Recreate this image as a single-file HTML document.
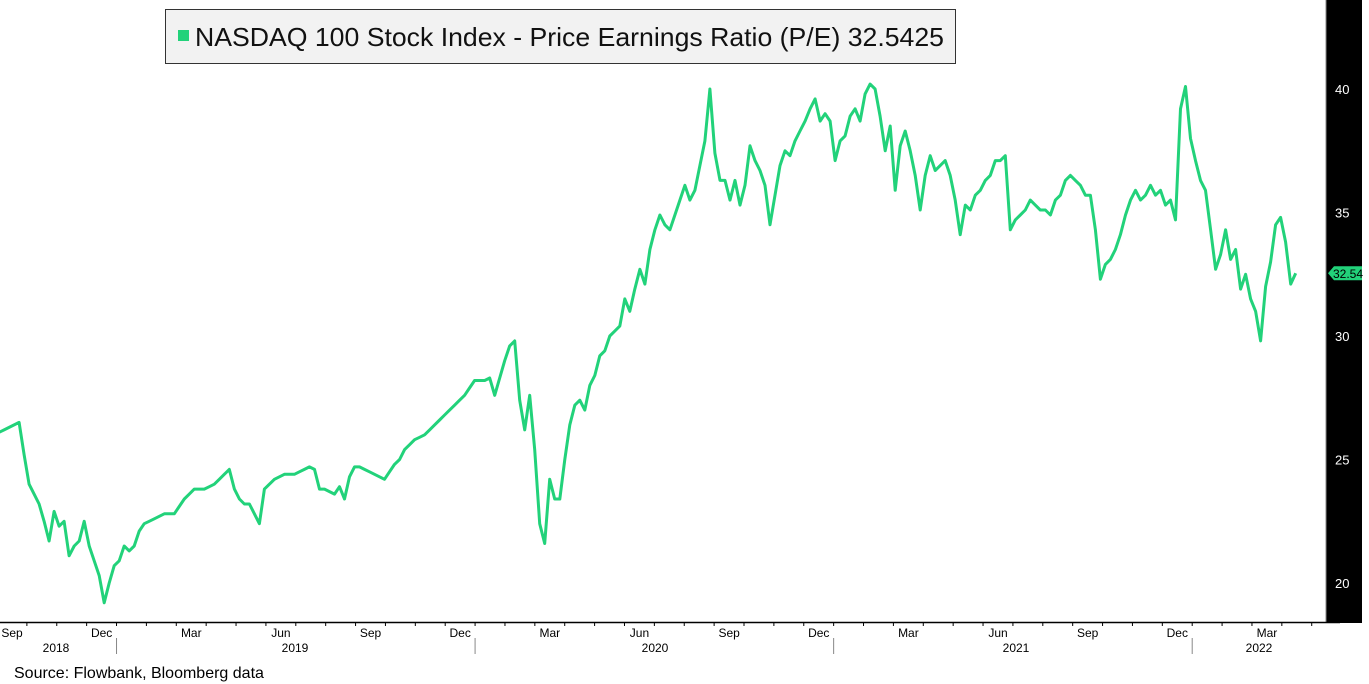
<!DOCTYPE html>
<html><head><meta charset="utf-8">
<style>
html,body{margin:0;padding:0;background:#fff;width:1369px;height:684px;overflow:hidden;font-family:"Liberation Sans",sans-serif}
</style></head>
<body>
<svg id="chart" width="1369" height="684" xmlns="http://www.w3.org/2000/svg">
<rect x="1326" y="0" width="36" height="623" fill="#000"/>
<line x1="1326" y1="0" x2="1326" y2="623" stroke="#888" stroke-width="1"/>
<line x1="0" y1="622.5" x2="1340" y2="622.5" stroke="#000" stroke-width="1.5"/>
<g id="yticks"></g><g id="xticks"></g>
<path id="line" fill="none" stroke="#22d27a" stroke-width="3" stroke-linejoin="round"/>
<g id="lastval"></g>
<g>
<rect x="165.5" y="9.5" width="790" height="54" fill="#f2f2f2" stroke="#333" stroke-width="1"/>
<rect x="178" y="30" width="11" height="11" fill="#22d27a"/>
<text x="195" y="46" font-size="26" fill="#111" textLength="749" lengthAdjust="spacingAndGlyphs">NASDAQ 100 Stock Index - Price Earnings Ratio (P/E) 32.5425</text>
</g>
<text x="14" y="678" font-size="16" fill="#000">Source: Flowbank, Bloomberg data</text>
</svg>
<script>
const yTicks=[20,25,30,35,40];
const monthLabels=["Sep","Dec","Mar","Jun","Sep","Dec","Mar","Jun","Sep","Dec","Mar","Jun","Sep","Dec","Mar"];
const yearLabels=["2018","2019","2020","2021","2022"];
const startDate="2018-08-29";
const stepDays=5.1;
const values=[26.0,26.1,26.2,26.3,26.4,26.5,25.2,24.0,23.6,23.2,22.5,21.7,22.9,22.3,22.5,21.1,21.5,21.7,22.5,21.5,20.9,20.3,19.2,20.0,20.7,20.9,21.5,21.3,21.5,22.1,22.4,22.5,22.6,22.7,22.8,22.8,22.8,23.1,23.4,23.6,23.8,23.8,23.8,23.9,24.0,24.2,24.4,24.6,23.8,23.4,23.2,23.2,22.8,22.4,23.8,24.0,24.2,24.3,24.4,24.4,24.4,24.5,24.6,24.7,24.6,23.8,23.8,23.7,23.6,23.9,23.4,24.3,24.7,24.7,24.6,24.5,24.4,24.3,24.2,24.5,24.8,25.0,25.4,25.6,25.8,25.9,26.0,26.2,26.4,26.6,26.8,27.0,27.2,27.4,27.6,27.9,28.2,28.2,28.2,28.3,27.6,28.3,29.0,29.6,29.8,27.4,26.2,27.6,25.4,22.4,21.6,24.2,23.4,23.4,25.0,26.4,27.2,27.4,27.0,28.0,28.4,29.2,29.4,30.0,30.2,30.4,31.5,31.0,31.9,32.7,32.1,33.5,34.3,34.9,34.5,34.3,34.9,35.5,36.1,35.5,35.9,36.9,37.9,40.0,37.4,36.3,36.3,35.5,36.3,35.3,36.1,37.7,37.1,36.7,36.1,34.5,35.7,36.9,37.5,37.3,37.9,38.3,38.7,39.2,39.6,38.7,39.0,38.7,37.1,37.9,38.1,38.9,39.2,38.7,39.8,40.2,40.0,38.9,37.5,38.5,35.9,37.7,38.3,37.5,36.5,35.1,36.5,37.3,36.7,36.9,37.1,36.5,35.5,34.1,35.3,35.1,35.7,35.9,36.3,36.5,37.1,37.1,37.3,34.3,34.7,34.9,35.1,35.5,35.3,35.1,35.1,34.9,35.5,35.7,36.3,36.5,36.3,36.1,35.7,35.7,34.3,32.3,32.9,33.1,33.5,34.1,34.9,35.5,35.9,35.5,35.7,36.1,35.7,35.9,35.3,35.5,34.7,39.2,40.1,38.0,37.1,36.3,35.9,34.3,32.7,33.3,34.3,33.1,33.5,31.9,32.5,31.5,31.0,29.8,32.0,33.0,34.5,34.8,33.8,32.1,32.54];
const lastValue=32.5425;

const NS="http://www.w3.org/2000/svg";
const t0=new Date("2018-09-01T00:00:00Z").getTime();
const s0=new Date(startDate+"T00:00:00Z").getTime();
function xOfDays(d){return -3+d/30.44*29.88;}
function xOfDate(ms){return xOfDays((ms-t0)/86400000);}
function yOf(v){return 89+(40-v)*24.7;}
function mk(tag,attrs,parent){const e=document.createElementNS(NS,tag);for(const k in attrs)e.setAttribute(k,attrs[k]);parent.appendChild(e);return e;}

const yg=document.getElementById('yticks');
yTicks.forEach(v=>{
  const t=mk('text',{x:1335,y:yOf(v)+5,'font-size':13,fill:'#fff'},yg);
  
  
  t.textContent=v;
});

let d="";
values.forEach((v,i)=>{
  const x=xOfDate(s0+i*stepDays*86400000);
  d+=(i?"L":"M")+x.toFixed(1)+","+yOf(v).toFixed(1);
});
document.getElementById('line').setAttribute('d',d);

const xg=document.getElementById('xticks');
for(let m=0;m<=44;m++){
  const x=-3+m*29.88;
  const tk=mk('line',{x1:x,y1:622,x2:x,y2:626,stroke:'#000','stroke-width':1},xg);
  
  
}
monthLabels.forEach((lab,i)=>{
  const t=mk('text',{x:12+i*3*29.88,y:637,'font-size':12,fill:'#000','text-anchor':'middle'},xg);
  
  
  t.textContent=lab;
});
const yearX=[56,295,655,1016,1259];
yearLabels.forEach((lab,i)=>{
  const t=mk('text',{x:yearX[i],y:652,'font-size':12,fill:'#000','text-anchor':'middle'},xg);
  
  
  t.textContent=lab;
});
[1,2,3,4].forEach(k=>{
  const x=-3+(4+12*(k-1))*29.88;
  const s=mk('line',{x1:x,y1:638,x2:x,y2:654,stroke:'#888','stroke-width':1},xg);
  
  
});

const lg=document.getElementById('lastval');
const ly=yOf(lastValue);
const tag=mk('path',{d:`M1328,${ly} L1334,${ly-7} L1362,${ly-7} L1362,${ly+7} L1334,${ly+7} Z`,fill:'#22d27a'},lg);


const lt=mk('text',{x:1333,y:ly+5,'font-size':12,fill:'#000'},lg);


lt.textContent=lastValue.toFixed(2);
</script>
</body></html>
